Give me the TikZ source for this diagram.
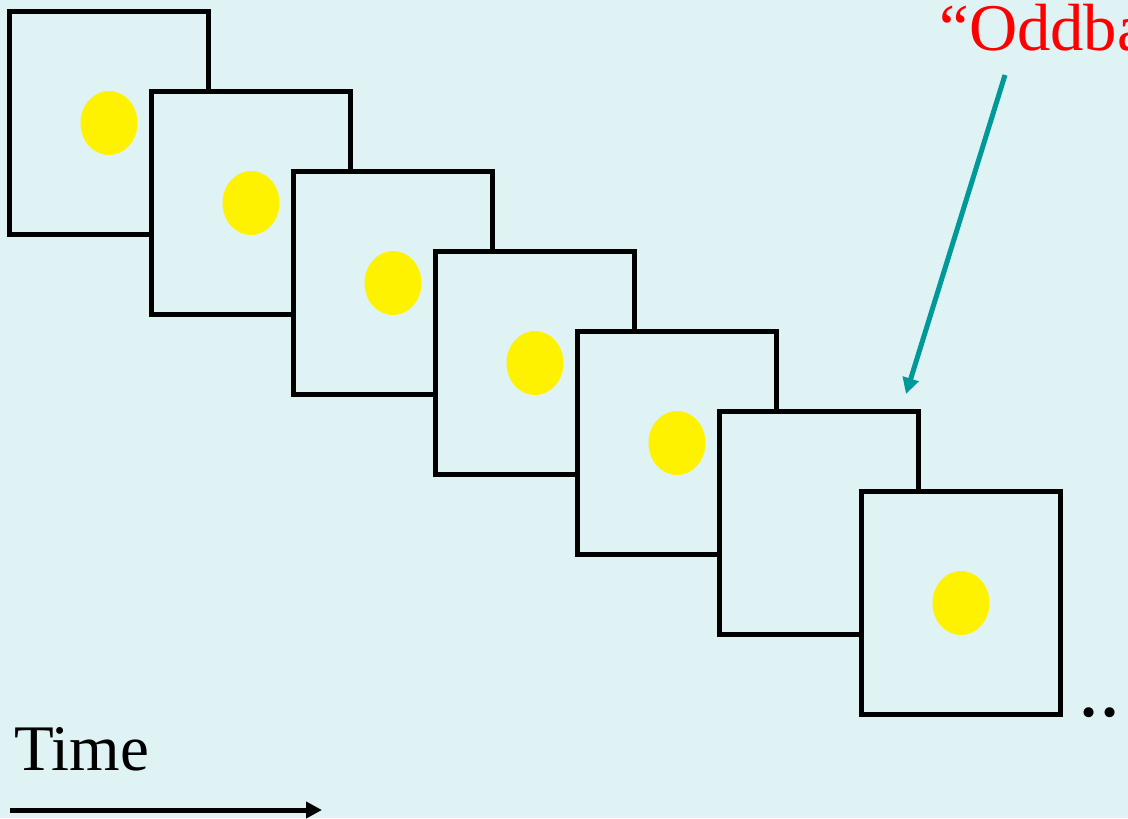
\documentclass[tikz,border=0pt]{standalone}
\usepackage{fontspec}
\setmainfont{Liberation Serif}
\usetikzlibrary{arrows.meta,shapes.geometric}

\definecolor{slidebg}{RGB}{223,242,244}
\definecolor{oddteal}{RGB}{0,153,153}

\begin{document}
\begin{tikzpicture}[
    x=0.02cm, y=-0.02cm,
    stimbox/.style={rectangle, draw=black, fill=slidebg, line width=0.1cm, inner sep=0pt, minimum width=3.97cm, minimum height=4.47cm},
    blob/.style={ellipse, fill=yellow, inner sep=0pt, minimum width=1.14cm, minimum height=1.28cm},
    arrow/.style={-{Triangle[length=0.32cm, width=0.32cm]}, line width=0.1cm},
    txt/.style={inner sep=0pt, anchor=base west}
]
\useasboundingbox (0,0) rectangle (1128,818);
\clip (0,0) rectangle (1128,818);
\fill[slidebg] (0,0) rectangle (1128,818);

% stimulus sequence
\node[stimbox] (f1) at (109,123) {};
\node[blob] (e1) at (f1) {};
\node[stimbox] (f2) at (251,203) {};
\node[blob] (e2) at (f2) {};
\node[stimbox] (f3) at (393,283) {};
\node[blob] (e3) at (f3) {};
\node[stimbox] (f4) at (535,363) {};
\node[blob] (e4) at (f4) {};
\node[stimbox] (f5) at (677,443) {};
\node[blob] (e5) at (f5) {};
\node[stimbox] (f6) at (819,523) {};
\node[stimbox] (f7) at (961,603) {};
\node[blob] (e7) at (f7) {};
\node[txt, font=\fontsize{48}{50}\selectfont] (dots) at (1078,716) {..};

% oddball label
\node[txt, text=red, font=\fontsize{38}{40}\selectfont] (odd) at (939,50) {“Oddba};
\coordinate (oddtail) at (1005,75);
\coordinate (oddtip) at (906,394);
\draw[arrow, oddteal] (oddtail) -- (oddtip);

% time axis
\node[txt, font=\fontsize{37}{40}\selectfont] (time) at (14,770) {Time};
\coordinate (t0) at (10,810);
\coordinate (t1) at (322,810);
\draw[arrow] (t0) -- (t1);
\end{tikzpicture}
\end{document}
